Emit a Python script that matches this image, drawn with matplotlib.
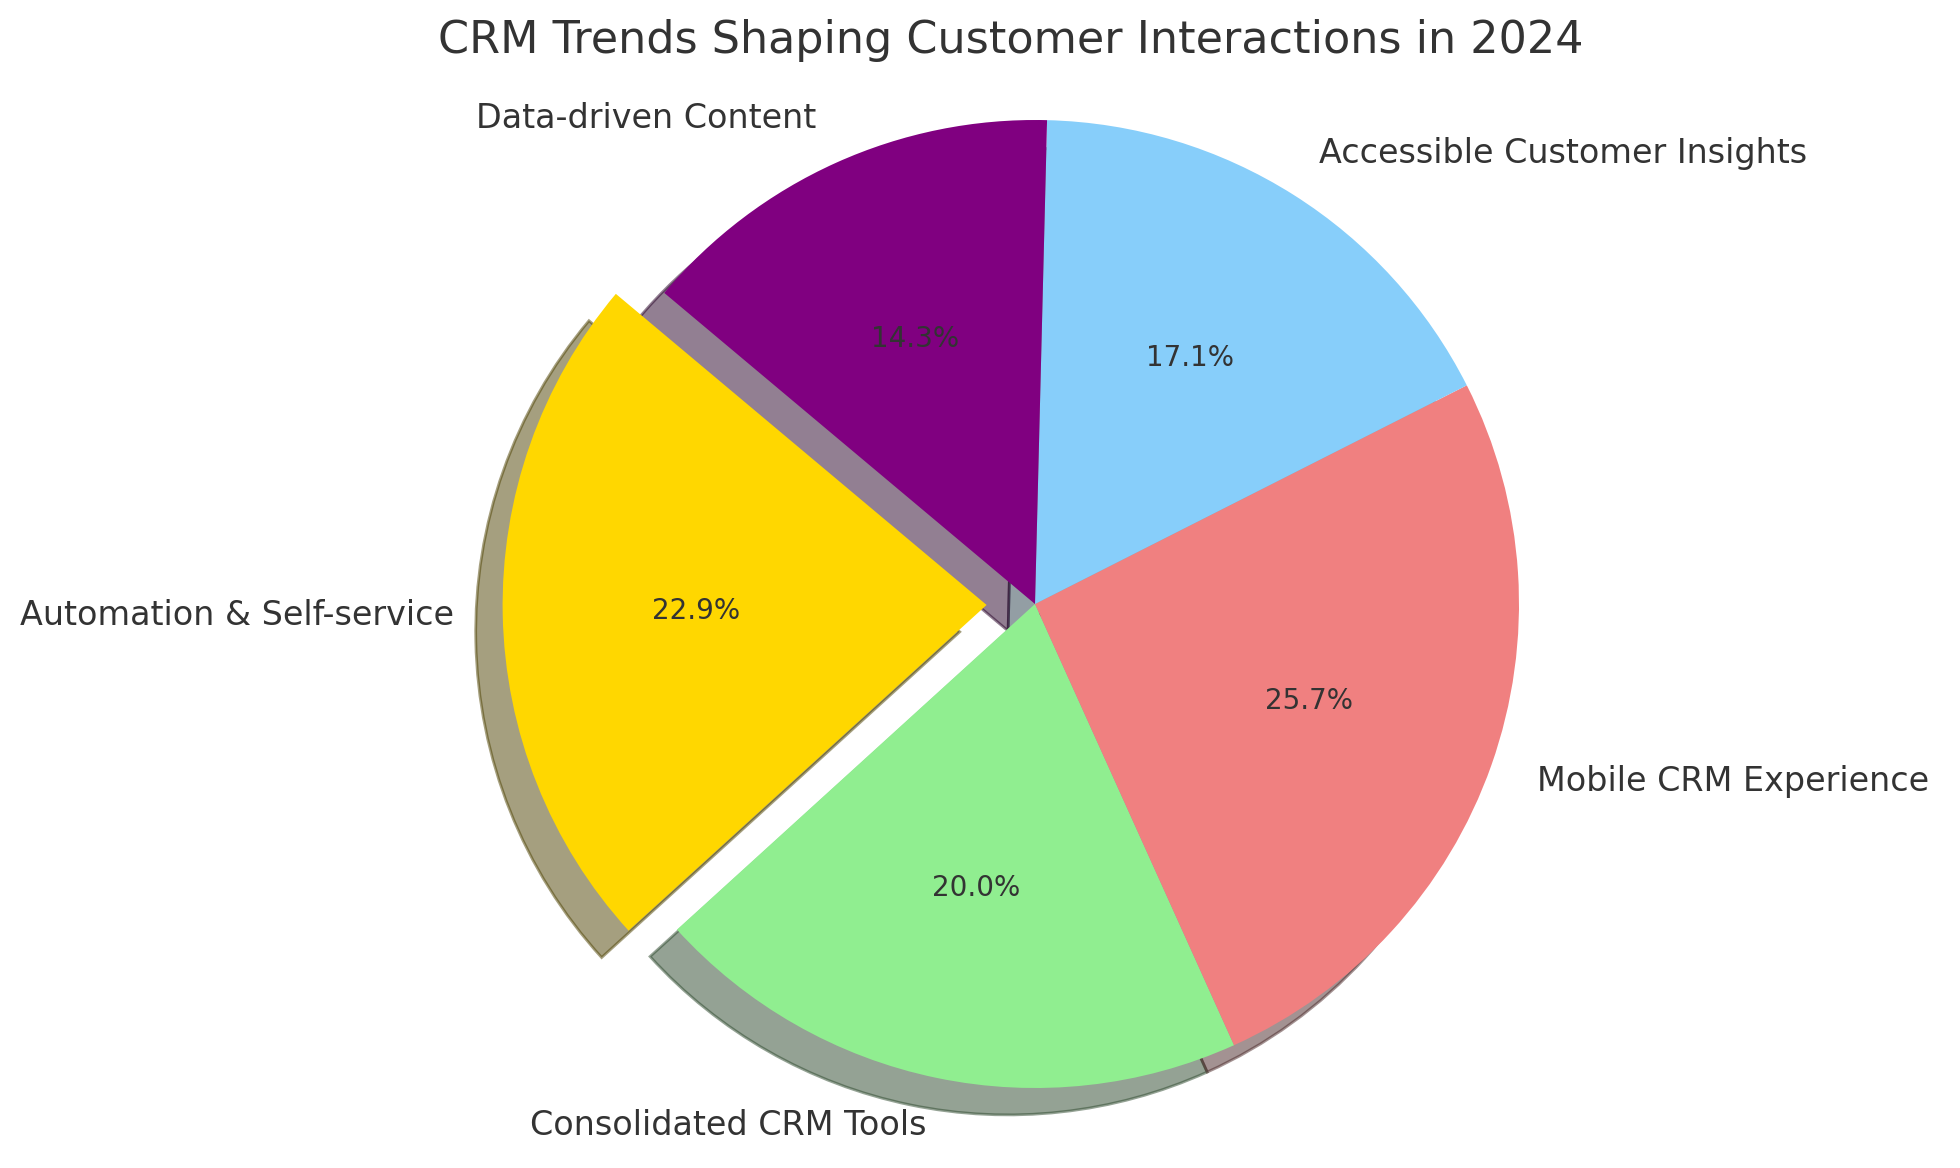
import matplotlib
matplotlib.use("Agg")
import matplotlib.pyplot as plt

# CRM trend shares (counts out of 35)
trends = ["Automation & Self-service", "Consolidated CRM Tools",
          "Mobile CRM Experience", "Accessible Customer Insights",
          "Data-driven Content"]
shares = [8, 7, 9, 6, 5]
colors = ["gold", "lightgreen", "lightcoral", "lightskyblue", "purple"]
explode = [0.1, 0, 0, 0, 0]

plt.rcParams['text.color'] = '#333333'

W, H, DPI = 1960, 1168, 200
fig = plt.figure(figsize=(W / DPI, H / DPI), dpi=DPI)
ax = fig.add_axes([0, 0, 1, 1])

wedges, texts, autotexts = ax.pie(shares, labels=trends, colors=colors,
                                  explode=explode, autopct='%1.1f%%',
                                  shadow=True, startangle=140,
                                  textprops={'fontsize': 12})
for t in autotexts:
    t.set_fontsize(10)

# place pie: radius ~484 px, centre at (1035, 604 from top)
r = 484.0
cx, cy = 1035.0, H - 604.0
ax.set_xlim(-cx / r, (W - cx) / r)
ax.set_ylim(-cy / r, (H - cy) / r)
ax.set_aspect('equal')
ax.axis('off')

fig.text(1011 / W, 1 - 40 / H, "CRM Trends Shaping Customer Interactions in 2024",
         ha='center', va='center', fontsize=16)

fig.savefig("out.png", dpi=DPI)
